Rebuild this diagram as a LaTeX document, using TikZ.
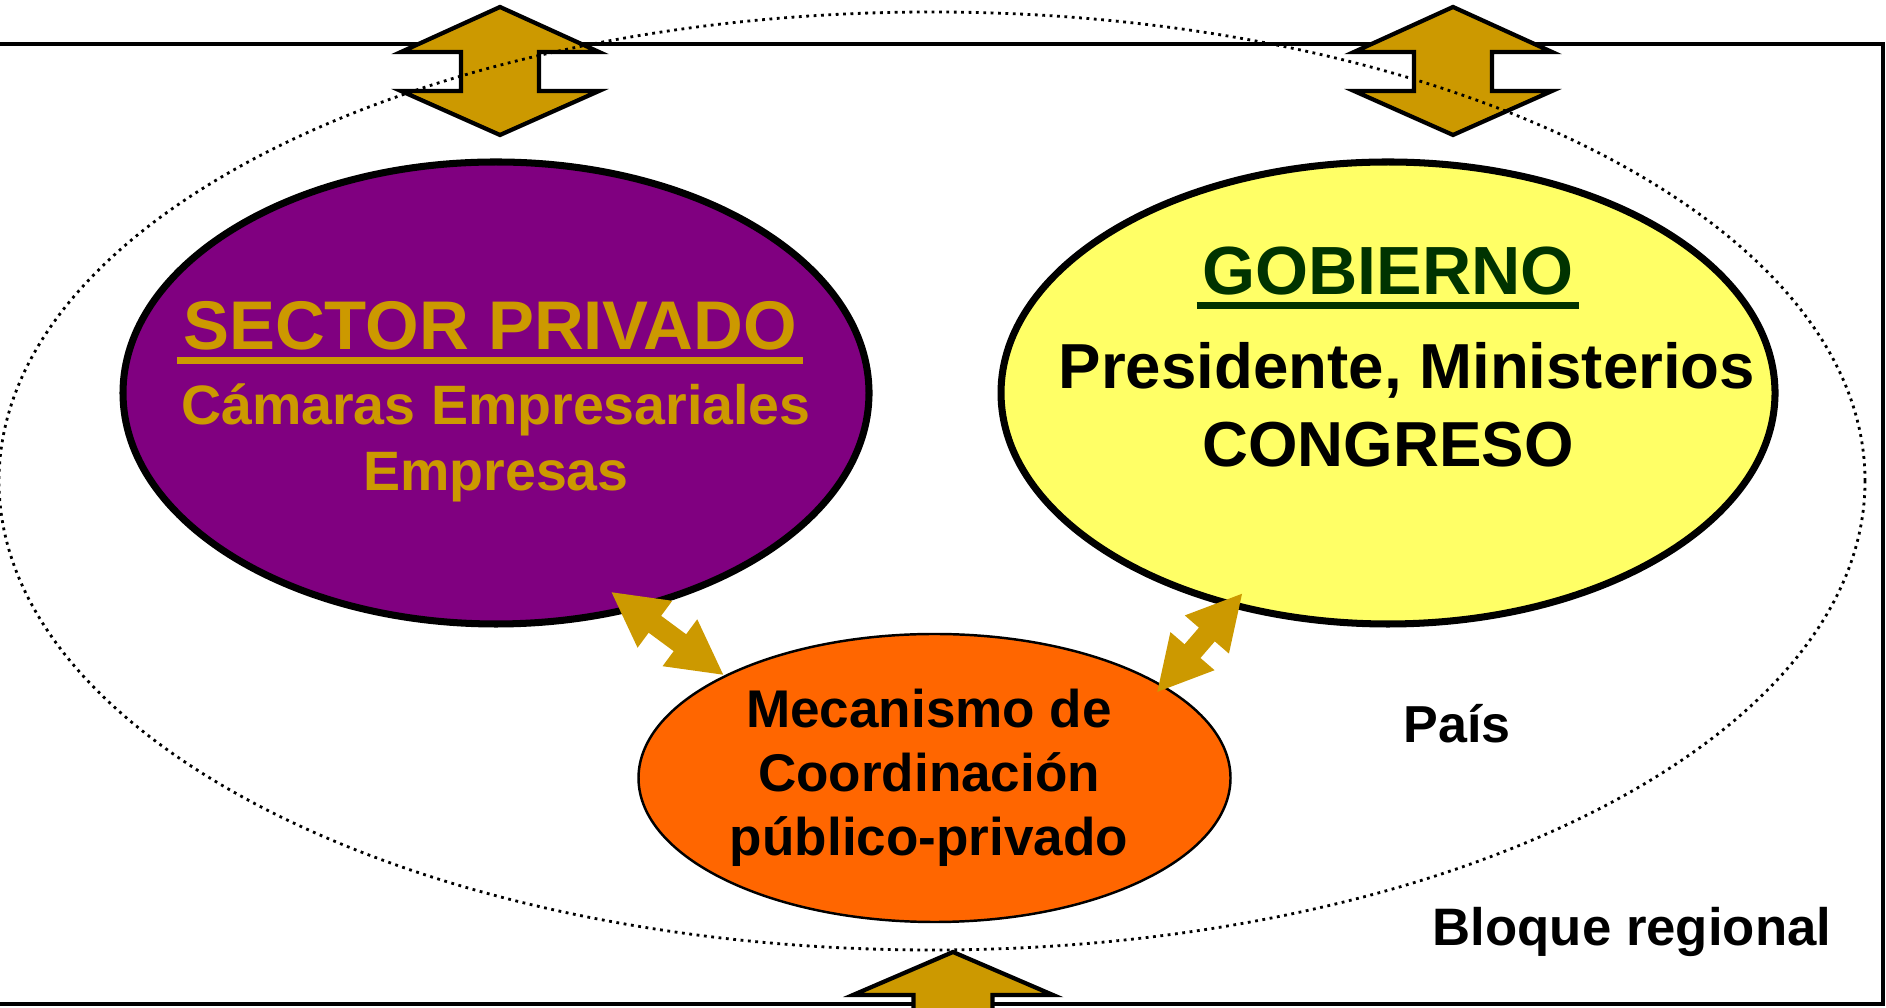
\documentclass[tikz,border=0pt]{standalone}
\usepackage{fontspec}
\setmainfont{Liberation Sans}
\usetikzlibrary{arrows.meta,shapes.geometric,calc}

\definecolor{oro}{HTML}{CC9900}
\definecolor{morado}{HTML}{800080}
\definecolor{amarillo}{HTML}{FFFF66}
\definecolor{naranja}{HTML}{FF6600}
\definecolor{verdeosc}{HTML}{003300}

\begin{document}
\begin{tikzpicture}[
    elipse/.style={ellipse, draw=black, inner sep=0pt},
    texto/.style={inner sep=0pt, align=center},
    flecha/.style={fill=oro, draw=black, line width=1.2pt, line join=miter},
    dobleflecha/.style={draw=oro, line width=0.21cm,
        {Triangle[width=0.54cm,length=0.55cm]}-{Triangle[width=0.54cm,length=0.55cm]}}
]
    \useasboundingbox (0,0) rectangle (18.86,10.08);

    \draw [line width=1.2pt] (-0.2,0.04) rectangle (18.83,9.64);   % bloque regional

    % flechas hacia fuera del bloque
    \draw [flecha, shift={(5.00,9.37)}] (0,0.64) -- (0.99,0.19) -- (0.39,0.19)
        -- (0.39,-0.20) -- (0.99,-0.20) -- (0,-0.64) -- (-0.99,-0.20)
        -- (-0.39,-0.20) -- (-0.39,0.19) -- (-0.99,0.19) -- cycle;
    \draw [flecha, shift={(14.53,9.37)}] (0,0.64) -- (0.99,0.19) -- (0.39,0.19)
        -- (0.39,-0.20) -- (0.99,-0.20) -- (0,-0.64) -- (-0.99,-0.20)
        -- (-0.39,-0.20) -- (-0.39,0.19) -- (-0.99,0.19) -- cycle;
    \draw [flecha] (9.53,0.56) -- (10.53,0.13) -- (9.925,0.13) -- (9.925,-0.5)
        -- (9.135,-0.5) -- (9.135,0.13) -- (8.53,0.13) -- cycle;

    % pais
    \draw [dash pattern=on 0.8pt off 1.3pt, line width=0.8pt] (9.32,5.27) ellipse (9.33 and 4.69);

    \node [elipse, line width=2pt, fill=morado, minimum width=7.46cm, minimum height=4.62cm]
        (priv) at (4.96,6.15) {};
    \node [elipse, line width=2pt, fill=amarillo, minimum width=7.74cm, minimum height=4.62cm]
        (gob) at (13.88,6.15) {};
    \node [elipse, line width=0.7pt, fill=naranja, minimum width=5.92cm, minimum height=2.88cm]
        (mec) at (9.345,2.30) {};

    \draw [dobleflecha] ($(priv.center)!0.9!(priv.-60)$) -- (mec.154);
    \draw [dobleflecha] ($(gob.center)!0.93!(gob.-126)$) -- ($(mec.center)!0.95!(mec.21)$);

    % textos
    \node [texto, oro, font=\fontsize{19.6}{23.5}\selectfont\bfseries] (sp) at (4.90,6.82) {SECTOR PRIVADO};
    \draw [oro, line width=2pt] ([xshift=-0.05cm,yshift=-0.11cm]sp.base west) -- ([xshift=0.05cm,yshift=-0.11cm]sp.base east);
    \node [texto, oro, font=\fontsize{15.8}{19}\selectfont\bfseries] (cam) at (4.96,5.65)
        {Cámaras Empresariales\\Empresas};

    \node [texto, verdeosc, font=\fontsize{19.4}{23.3}\selectfont\bfseries] (go) at (13.88,7.365) {GOBIERNO};
    \draw [verdeosc, line width=2pt] ([xshift=-0.05cm,yshift=-0.11cm]go.base west) -- ([xshift=0.05cm,yshift=-0.11cm]go.base east);
    \node [texto, font=\fontsize{18.1}{21.7}\selectfont\bfseries] (pres) at (14.07,6.38) {Presidente, Ministerios};
    \node [texto, font=\fontsize{18.1}{21.7}\selectfont\bfseries] (cong) at (13.88,5.63) {CONGRESO};

    \node [texto, font=\fontsize{15.1}{18.2}\selectfont\bfseries] (mc) at (9.29,2.30)
        {Mecanismo de\\Coordinación\\público-privado};

    \node [texto, font=\fontsize{14.8}{17.8}\selectfont\bfseries] (pa) at (14.57,2.84) {País};
    \node [texto, font=\fontsize{15}{18}\selectfont\bfseries] (bl) at (16.32,0.76) {Bloque regional};
\end{tikzpicture}
\end{document}
